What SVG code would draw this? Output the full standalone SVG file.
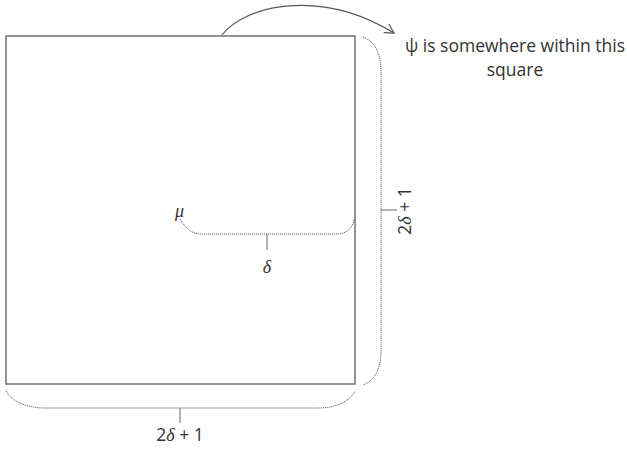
<svg xmlns="http://www.w3.org/2000/svg" width="627" height="453" viewBox="0 0 627 453">
<style>
.sq{fill:none;stroke:#7a7a7a;stroke-width:1.6}
.br{fill:none;stroke:#666;stroke-width:1;stroke-dasharray:1.2 0.8}
.tk{fill:none;stroke:#666;stroke-width:1}
.t{font-family:"Open Sans","Liberation Sans",sans-serif;font-size:17.5px;fill:#333}
.n{font-family:"Open Sans","Liberation Sans",sans-serif;font-size:17.5px;fill:#333}
.m{font-family:"Liberation Serif","DejaVu Serif",serif;font-style:italic;font-size:18px;fill:#333}
</style>
<defs>
<marker id="ah" markerWidth="12" markerHeight="12" refX="10" refY="6" orient="auto" markerUnits="userSpaceOnUse">
<path d="M1,1 L10,6 L1,11" fill="none" stroke="#555" stroke-width="1.2"/>
</marker>
</defs>
<rect width="627" height="453" fill="#fff"/>
<g id="square"><rect class="sq" x="6" y="36" width="349" height="348"/></g>
<g id="connectors">
<path d="M222,35 C245,5 320,-12 394,33" fill="none" stroke="#555" stroke-width="1.2" marker-end="url(#ah)"/>
<path class="br" d="M363,37 C376,42 381,55 381,72 L381,350 C381,367 376,380 363,385"/>
<path class="tk" d="M381,210 L397,210"/>
<path class="br" d="M6,391 C12,402 28,408 45,408 L318,408 C335,408 349,402 355,391"/>
<path class="tk" d="M180,408 L180,423"/>
<path class="br" d="M180,219 C186,228 190,234 202,234 L336,234 C347,234 353,228 354,219"/>
<path class="tk" d="M267,234 L267,250"/>
</g>
<g id="label-psi"><text class="t" x="515" y="52" text-anchor="middle">ψ is somewhere within this</text>
<text class="t" x="515" y="76" text-anchor="middle">square</text></g>
<g id="label-mu"><text class="m" x="175" y="217">μ</text></g>
<g id="label-delta"><text class="m" x="267" y="273" text-anchor="middle">δ</text></g>
<g id="label-right"><text class="n" transform="translate(411,211) rotate(-90)" text-anchor="middle">2<tspan class="m">δ</tspan> + 1</text></g>
<g id="label-bottom"><text class="n" x="180" y="441" text-anchor="middle">2<tspan class="m">δ</tspan> + 1</text></g>
</svg>
